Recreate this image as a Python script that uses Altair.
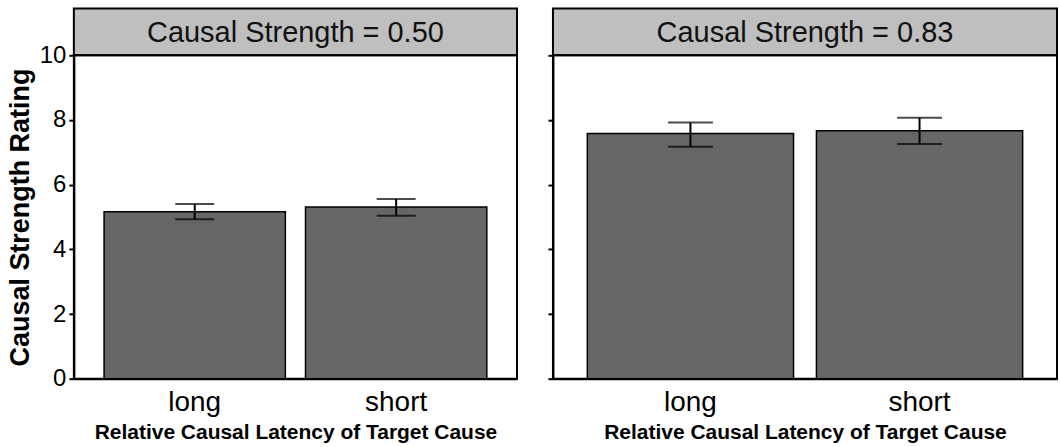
import altair as alt
import pandas as pd

# Causal strength conditions (one panel each)
strengths = ["0.50", "0.83"]
latency = ["long", "short"]

# Mean ratings and error-bar limits per panel
means_050 = [5.16, 5.31]
lower_050 = [4.93, 5.04]
upper_050 = [5.40, 5.56]

means_083 = [7.58, 7.67]
lower_083 = [7.17, 7.26]
upper_083 = [7.92, 8.07]

y_ticks = [0, 2, 4, 6, 8, 10]

FONT = "Liberation Sans"
HEADER_H = 47
PLOT_H = 324


def panel(strength, means, lower, upper, width, first, cap):
    df = pd.DataFrame({"latency": latency, "mean": means, "lo": lower, "hi": upper})

    x = alt.X(
        "latency:N",
        sort=latency,
        scale=alt.Scale(paddingInner=0.1, paddingOuter=0.15),
        axis=alt.Axis(
            title="Relative Causal Latency of Target Cause",
            labelAngle=0,
            ticks=False,
            labelFontSize=28,
            labelFont=FONT,
            labelColor="black",
            labelPadding=10,
            titleFont=FONT,
            titleFontSize=21,
            titleFontWeight="bold",
            titleColor="black",
            titlePadding=5,
            domainColor="black",
            domainWidth=2,
        ),
    )
    yscale = alt.Scale(domain=[0, 10], nice=False, zero=True)
    yaxis = alt.Axis(
        values=y_ticks,
        grid=False,
        labels=first,
        title="Causal Strength Rating" if first else None,
        tickSize=5,
        tickWidth=2,
        tickColor="black",
        labelFontSize=24,
        labelFont=FONT,
        labelColor="black",
        labelPadding=3,
        titleFont=FONT,
        titleFontSize=27,
        titleFontWeight="bold",
        titleColor="black",
        titlePadding=5,
        domainColor="black",
        domainWidth=2,
    )

    base = alt.Chart(df)
    bars = base.mark_bar(color="#666666", stroke="black", strokeWidth=1.5).encode(
        x=x, y=alt.Y("mean:Q", scale=yscale, axis=yaxis)
    )
    stem = base.mark_rule(color="black", strokeWidth=2).encode(
        x=alt.X("latency:N", sort=latency), y="lo:Q", y2="hi:Q"
    )
    cap_lo = base.mark_tick(color="black", size=cap, thickness=2).encode(
        x=alt.X("latency:N", sort=latency), y="lo:Q"
    )
    cap_hi = base.mark_tick(color="black", size=cap, thickness=2).encode(
        x=alt.X("latency:N", sort=latency), y="hi:Q"
    )
    plot = alt.layer(bars, stem, cap_lo, cap_hi).properties(width=width, height=PLOT_H)

    header = (
        alt.Chart(pd.DataFrame({"t": [f"Causal Strength = {strength}"]}))
        .mark_text(font=FONT, fontSize=29, color="#111111")
        .encode(x=alt.value(width / 2), y=alt.value(HEADER_H / 2 + 1), text="t:N")
        .properties(
            width=width,
            height=HEADER_H,
            view=alt.ViewBackground(fill="#bfbfbf", stroke="black", strokeWidth=2),
        )
    )
    return alt.vconcat(header, plot, spacing=0, bounds="flush")


left = panel(strengths[0], means_050, lower_050, upper_050, 444, True, 39)
right = panel(strengths[1], means_083, lower_083, upper_083, 505, False, 45)

chart = (
    alt.hconcat(left, right, spacing=28)
    .properties(padding={"left": 5, "top": 7, "right": 2, "bottom": 2}, background="white")
    .configure_view(stroke="black", strokeWidth=2)
)

chart.save("out.html", embed_options={"renderer": "svg", "actions": False})
